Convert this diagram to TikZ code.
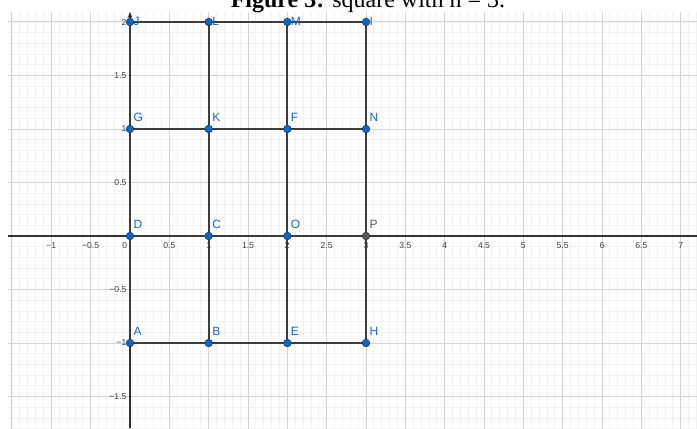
\documentclass[tikz,border=0pt]{standalone}
\usepackage{fontspec}
\setmainfont{Liberation Serif}
\setsansfont{Liberation Sans}
\usepackage{tikz}
\usetikzlibrary{arrows.meta,positioning}
\definecolor{ggblue}{RGB}{21,101,192}
\definecolor{ggdark}{RGB}{60,60,60}
\definecolor{gggray}{RGB}{90,90,90}

\begin{document}
\begin{tikzpicture}[x=39.33pt, y=53.5pt,
    minorgrid/.style={draw=black!5, line width=0.4pt},
    majorgrid/.style={draw=black!17, line width=0.5pt},
    axisline/.style={draw=black!80, line width=0.7pt},
    seg/.style={draw=ggdark, line width=1pt},
    pt/.style={circle, fill=ggblue, draw=ggblue!60!black, line width=0.3pt, inner sep=0pt, minimum size=3.8pt},
    ptlabel/.style={font=\sffamily\fontsize{6}{7}\selectfont, text=ggblue, inner sep=0pt, anchor=base west},
    ticklabel/.style={font=\sffamily\fontsize{4.3}{5}\selectfont, text=black!75, inner sep=0pt}
]
\useasboundingbox (-1.6525,-1.7944) rectangle (7.2074,2.2056);

% title, cut off at the top
\node[font=\fontsize{12}{14}\selectfont, anchor=base, inner sep=0pt] (title) at (3.025,2.14)
    {\textbf{Figure 3:} square with n = 3.};

% grid points of the square
\coordinate (J) at (0,2);
\coordinate (L) at (1,2);
\coordinate (M) at (2,2);
\coordinate (I) at (3,2);
\coordinate (G) at (0,1);
\coordinate (K) at (1,1);
\coordinate (F) at (2,1);
\coordinate (N) at (3,1);
\coordinate (D) at (0,0);
\coordinate (C) at (1,0);
\coordinate (O) at (2,0);
\coordinate (P) at (3,0);
\coordinate (A) at (0,-1);
\coordinate (B) at (1,-1);
\coordinate (E) at (2,-1);
\coordinate (H) at (3,-1);

\begin{scope}
\clip (-1.55,-1.7944) rectangle (7.2074,2.093);
% grid
\foreach \i in {-16,...,73}
    \draw[minorgrid] (\i/10,-1.9) -- (\i/10,2.2);
\foreach \j in {-18,...,21}
    \draw[minorgrid] (-1.7,\j/10) -- (7.3,\j/10);
\foreach \i in {-3,...,14}
    \draw[majorgrid] (\i/2,-1.9) -- (\i/2,2.2);
\foreach \j in {-4,...,4}
    \draw[majorgrid] (-1.7,\j/2) -- (7.3,\j/2);

% axes
\coordinate (xl) at (-1.55,0);
\coordinate (xr) at (7.2074,0);
\coordinate (yb) at (0,-1.7944);
\coordinate (yt) at (0,2.093);
\draw[axisline] (xl) -- (xr);
\draw[axisline, -{Stealth[length=3pt,width=2.5pt]}] (yb) -- (yt);

% tick labels
\foreach \v/\t in {-1/−1, -0.5/−0.5, 0.5/0.5, 1/1, 1.5/1.5, 2/2, 2.5/2.5, 3/3, 3.5/3.5,
    4/4, 4.5/4.5, 5/5, 5.5/5.5, 6/6, 6.5/6.5, 7/7}
    \node[ticklabel, anchor=north] (xt\v) at (\v,-0.055) {\t};
\node[ticklabel, anchor=north east] (xt0) at (-0.03,-0.055) {0};
\foreach \v/\t in {-1.5/−1.5, -1/−1, -0.5/−0.5, 0.5/0.5, 1/1, 1.5/1.5, 2/2}
    \node[ticklabel, anchor=east] (yt\v) at (-0.04,\v) {\t};

% segments
\draw[seg] (J) -- (I);
\draw[seg] (G) -- (N);
\draw[seg] (D) -- (P);
\draw[seg] (A) -- (H);
\draw[seg] (J) -- (A);
\draw[seg] (L) -- (B);
\draw[seg] (M) -- (E);
\draw[seg] (I) -- (H);

% points and their labels
\foreach \p in {A,B,C,D,E,F,G,H,K,N,O} {
    \node[pt] (\p dot) at (\p) {};
    \node[ptlabel] (\p lab) at ([xshift=1.6pt,yshift=3.6pt]\p) {\p};
}
% top row: labels pushed down into the view
\foreach \p in {J,L,M,I} {
    \node[pt] (\p dot) at (\p) {};
    \node[ptlabel] (\p lab) at ([xshift=1.6pt,yshift=-1.6pt]\p) {\p};
}
\node[pt, fill=gggray, draw=gggray!60!black] (Pdot) at (P) {};
\node[ptlabel, text=gggray] (Plab) at ([xshift=1.6pt,yshift=3.6pt]P) {P};
\end{scope}

\end{tikzpicture}
\end{document}
